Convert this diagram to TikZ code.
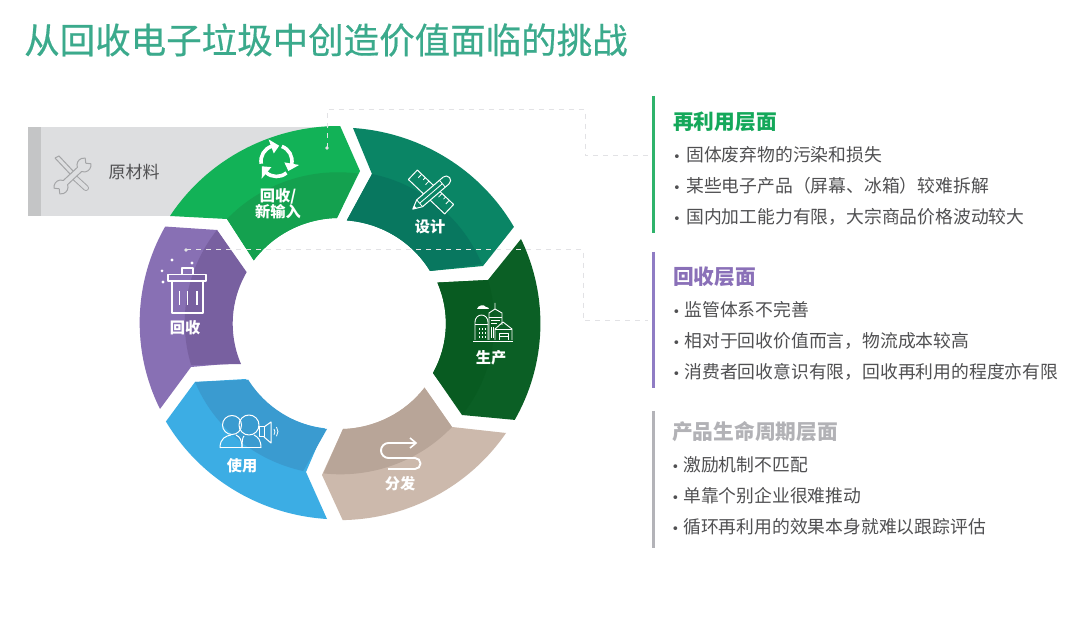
\documentclass[tikz,border=0pt]{standalone}
\usepackage{fontspec}
\setmainfont{Noto Sans CJK SC}
\newfontfamily\titlefont[FakeBold=0.5]{Noto Sans CJK SC}
\newfontfamily\bulletfont{DejaVu Sans}
\definecolor{titlecol}{HTML}{3BAA8C}
\definecolor{bodycol}{HTML}{505052}
\definecolor{hgreen}{HTML}{14A85A}
\definecolor{hpurple}{HTML}{8A70B8}
\definecolor{hgray}{HTML}{B2B2B6}
\definecolor{bargreen}{HTML}{2EB36B}
\definecolor{barpurple}{HTML}{8F7CC4}
\definecolor{bargray}{HTML}{B3B3B8}
\definecolor{rawbg}{HTML}{DDDEE0}
\definecolor{rawstrip}{HTML}{C4C5C6}
\definecolor{rawicon}{HTML}{A4A5A7}
\definecolor{greenL}{HTML}{12B257}
\definecolor{greenD}{HTML}{14A14F}
\definecolor{desL}{HTML}{0A8565}
\definecolor{desD}{HTML}{08775F}
\definecolor{proL}{HTML}{0B5F25}
\definecolor{proD}{HTML}{085B21}
\definecolor{disL}{HTML}{CCB9AC}
\definecolor{disD}{HTML}{B8A598}
\definecolor{useL}{HTML}{3CADE4}
\definecolor{useD}{HTML}{3A9BD0}
\definecolor{recL}{HTML}{8870B4}
\definecolor{recD}{HTML}{7860A0}
\definecolor{dashcol}{HTML}{E2E2E5}
\newcommand\oarc[2]{arc[start angle=#1,end angle=#2,x radius=201pt,y radius=197pt]}
\newcommand\iarc[2]{arc[start angle=#1,end angle=#2,x radius=106.5pt,y radius=104pt]}
\newcommand\barc[2]{arc[start angle=#1,end angle=#2,x radius=153pt,y radius=150pt]}
\tikzset{
  titletext/.style={anchor=west,inner sep=0pt,text=titlecol,font=\titlefont\fontsize{35.5}{40}\selectfont},
  headtext/.style={anchor=west,inner sep=0pt,font=\fontsize{20.7}{23}\selectfont\bfseries},
  itemtext/.style={anchor=west,inner sep=0pt,text=bodycol,font=\fontsize{17.8}{20}\selectfont},
  seglabel/.style={inner sep=0pt,text=white,align=center,font=\fontsize{15.2}{17}\selectfont\bfseries},
  sidebar/.style={line width=3pt},
  icon/.style={draw=white,line width=1pt,line join=round},
  guide/.style={draw=dashcol,line width=1pt,dash pattern=on 5pt off 5pt},
  guidedot/.style={fill=dashcol,draw=none}
}
\newcommand\itm[2]{\makebox[#1pt][l]{{\bulletfont\fontsize{13}{13}\selectfont •}}#2}
\begin{document}
\begin{tikzpicture}[x=1pt,y=1pt,yscale=-1]
\useasboundingbox (0,0) rectangle (1080,636);
\fill[white] (0,0) rectangle (1080,636);

\node[titletext] (title) at (24,40) {从回收电子垃圾中创造价值面临的挑战};

% raw material bar
\fill[rawbg] (28,127) rectangle (338,216);
\fill[rawstrip] (28,127) rectangle (41,216);
\node[inner sep=0pt,text=bodycol,font=\fontsize{17}{20}\selectfont] (raw) at (134,172) {原材料};
% tools icon
\draw[rawicon,line width=1pt] (55,158) -- (59,156) -- (74,172);
\draw[rawicon,line width=1pt] (55,158) -- (71,175);
\draw[rawicon,line width=6pt,line cap=round] (74,177) -- (86,188);
\draw[rawbg,line width=4pt,line cap=round] (74,177) -- (86,188);
\draw[rawicon,fill=rawbg,line width=1pt,line join=round] (81.6,171.6) -- (67.6,184.6) arc[start angle=-20,end angle=100,radius=7pt] -- (59.2,188.8) -- (54.1,188.2) arc[start angle=170,end angle=290,radius=7pt] -- (77.4,167.4) arc[start angle=160,end angle=280,radius=7pt] -- (85.8,163.2) -- (90.9,163.8) arc[start angle=-10,end angle=110,radius=7pt] -- cycle;

% ring: recycle / new input
\fill[greenL] (170,216) \oarc{212.9}{270.4} -- (360,171) -- (337,218) \iarc{268.6}{216.3} -- (227,219) -- cycle;
\fill[greenD] (227,219) \barc{223.5}{277.5} -- (337,218) \iarc{268.6}{216.3} -- cycle;
% design
\fill[desL] (353,128) \oarc{273.9}{330.3} -- (483,266) -- (430,271) \iarc{329.3}{274.5} -- (372,174) -- cycle;
\fill[desD] (372,174) \barc{282}{337.8} -- (430,271) \iarc{329.3}{274.5} -- cycle;
% production
\fill[proL] (521,239) \oarc{-25.4}{29.3} -- (462,415) -- (433,373) \iarc{28.5}{-23.1} -- (488,280) -- cycle;
\fill[proD] (488,280) \barc{-16.6}{37.3} -- (433,373) \iarc{28.5}{-23.1} -- cycle;
% distribution
\fill[disL] (506,433) \oarc{33.9}{89} -- (322,475) -- (343,429) \iarc{88.1}{37} -- (452,427) -- cycle;
\fill[disD] (452,427) \barc{43.2}{96.4} -- (343,429) \iarc{88.1}{37} -- cycle;
% use
\fill[useL] (327,519) \oarc{93.6}{149.8} -- (195,382) -- (246,379) \iarc{148.7}{96.6} -- (306,472) -- cycle;
\fill[useD] (195,382) \barc{157.5}{102.5} -- (327,429) \iarc{96.6}{148.7} -- cycle;
% collection
\fill[recL] (160,409) \oarc{154}{209.2} -- (217,230) -- (245,271) \iarc{209.7}{157.2} -- (191,367) -- cycle;
\fill[recD] (217,230) \barc{217.9}{163.4} -- (241,364) \iarc{157.2}{209.7} -- cycle;

% dashed guides
\coordinate (g1a) at (327,148);
\coordinate (g1b) at (327,110);
\coordinate (g1c) at (585,110);
\coordinate (g1d) at (585,156);
\coordinate (g1e) at (648,156);
\coordinate (g2a) at (186,250);
\coordinate (g2b) at (583,250);
\coordinate (g2c) at (583,321);
\coordinate (g2d) at (648,321);
\draw[guide] (g1a) -- (g1b) -- (g1c) -- (g1d) -- (g1e);
\draw[guide] (g2a) -- (g2b) -- (g2c) -- (g2d);
\fill[guidedot] (g1a) circle (1.8pt);
\fill[guidedot] (g2a) circle (1.8pt);

% recycle icon
\begin{scope}[shift={(276.5,161)}]
\foreach \a in {0,120,240}{
  \draw[white,line width=3.6pt] (170+\a:15.5) arc[start angle=170+\a,end angle=252+\a,radius=15.5pt];
  \fill[white] (280+\a:15.5) -- (250+\a:8) -- (250+\a:23) -- cycle;
}
\end{scope}
\node[seglabel] (lnew1) at (278,196) {回收/};
\node[seglabel] (lnew2) at (278,212) {新输入};

% design icon
\begin{scope}[shift={(431,192)},rotate=43.5]
\draw[icon] (-25,-6.5) rectangle (25,6.5);
\foreach \x/\h in {-19/5,-14/3,-9/5,9/5,14/3,19/5}{\draw[icon,line width=.8pt] (\x,-6.5) -- (\x,-6.5+\h);}
\end{scope}
\begin{scope}[shift={(431,193.5)},rotate=-40.7]
\draw[icon,fill=desL] (-24,0) -- (-15,-4.5) -- (20,-4.5) arc[start angle=-90,end angle=90,radius=4.5pt] -- (-15,4.5) -- cycle;
\draw[icon,line width=.8pt] (-15,-4.5) -- (-15,4.5) (15,-4.5) -- (15,4.5) (-15,0) -- (15,0);
\fill[white] (-24,0) -- (-20.5,-1.8) -- (-20.5,1.8) -- cycle;
\end{scope}
\node[seglabel] (ldes) at (430,227) {设计};

% production icon
\draw[icon,line width=.9pt] (473,341) -- (513,341);
\draw[icon,line width=.9pt] (475,340) -- (475,322) arc[start angle=180,end angle=360,x radius=6.5pt,y radius=7pt] -- (488,340);
\draw[icon,line width=.7pt] (475,324) -- (488,324);
\draw[icon,line width=.9pt] (489,340) -- (489,313) -- (495,309) -- (495,303);
\draw[icon,line width=.9pt] (495,309) -- (502,313) -- (502,325);
\draw[icon,line width=.7pt] (489,317) -- (502,317) (491,320) -- (500,320) (491,323) -- (497,323);
\draw[icon,line width=.7pt] (491,327) -- (491,338) (493,327) -- (493,338);
\draw[icon,line width=.9pt] (495,340) -- (495,329) -- (503,322) -- (512,329) -- (512,340);
\draw[icon,line width=.7pt] (495,329) -- (512,329) (499,340) -- (499,333) -- (508,333) -- (508,340) (499,336) -- (508,336);
\foreach \py in {328,332,336}{\draw[icon,line width=.8pt] (479,\py) -- (479,\py+2) (482,\py) -- (482,\py+2) (485,\py) -- (485,\py+2);}
\fill[white] (477,309) .. controls (478,305) and (484,304) .. (486,307) .. controls (488,307) and (489,308) .. (489,309) -- cycle;
\node[seglabel] (lpro) at (491,358) {生产};

% distribution icon
\draw[white,line width=1.9pt,line join=round] (415,443) -- (388.5,443) arc[start angle=270,end angle=90,radius=7.5pt] -- (415,458) arc[start angle=-90,end angle=90,radius=5.5pt] -- (388,469);
\draw[white,line width=1.6pt] (410,438) -- (416,443) -- (410,448);
\node[seglabel] (ldis) at (400,484) {分发};

% use icon
\draw[icon] (232,425) circle (9.5pt);
\draw[icon] (249,425) circle (10pt);
\draw[icon] (220,448) .. controls (220,438) and (226,436) .. (231,435);
\draw[icon] (242,448) .. controls (242,440) and (240,437) .. (236,435);
\draw[icon] (220,448) -- (261,448);
\draw[icon] (242,448) .. controls (242,439) and (243,437) .. (244,436);
\draw[icon] (261,448) .. controls (261,440) and (258,437) .. (254,435);
\draw[icon] (259,427) rectangle (264,437);
\draw[icon] (264,427) -- (271,422) -- (271,443) -- (264,437);
\draw[white,line width=.8pt] (274,429) arc[start angle=-35,end angle=35,radius=5pt];
\draw[white,line width=.8pt] (276.5,427) arc[start angle=-35,end angle=35,radius=8pt];
\node[seglabel] (luse) at (242,466) {使用};

% collection icon
\draw[icon,line width=1.8pt] (172,281) -- (172,313) -- (203,313) -- (203,281);
\draw[icon,line width=1.8pt] (168,274.5) rectangle (206,281);
\draw[icon,line width=1.8pt] (182,274.5) -- (182,268) -- (193,268) -- (193,274.5);
\draw[white,line width=1.5pt] (179.5,291) -- (179.5,305) (187.5,291) -- (187.5,305) (197,291) -- (197,305);
\fill[white] (172,260) circle (1.7pt) (192,263) circle (1.7pt) (162,271) circle (1.5pt) (163,282) circle (1.7pt);
\node[seglabel] (lrec) at (185,328) {回收};

% right column
\draw[sidebar,draw=bargreen] (653,96) -- (653,233);
\draw[sidebar,draw=barpurple] (653,252) -- (653,388);
\draw[sidebar,draw=bargray] (653,411) -- (653,548);

\node[headtext,text=hgreen] (h1) at (673,122) {再利用层面};
\node[itemtext] (a1) at (673,155) {\itm{13}{固体废弃物的污染和损失}};
\node[itemtext] (a2) at (673,186) {\itm{13}{某些电子产品（屏幕、冰箱）较难拆解}};
\node[itemtext] (a3) at (673,217) {\itm{13}{国内加工能力有限，大宗商品价格波动较大}};

\node[headtext,text=hpurple] (h2) at (673,277) {回收层面};
\node[itemtext] (b1) at (672.3,310) {\itm{12}{监管体系不完善}};
\node[itemtext] (b2) at (672.3,341) {\itm{12}{相对于回收价值而言，物流成本较高}};
\node[itemtext] (b3) at (672.3,372) {\itm{12}{消费者回收意识有限，回收再利用的程度亦有限}};

\node[headtext,text=hgray] (h3) at (672,432) {产品生命周期层面};
\node[itemtext] (c1) at (671.3,465) {\itm{11.7}{激励机制不匹配}};
\node[itemtext] (c2) at (671.3,496) {\itm{11.7}{单靠个别企业很难推动}};
\node[itemtext] (c3) at (671.3,527) {\itm{11.7}{循环再利用的效果本身就难以跟踪评估}};
\end{tikzpicture}
\end{document}
